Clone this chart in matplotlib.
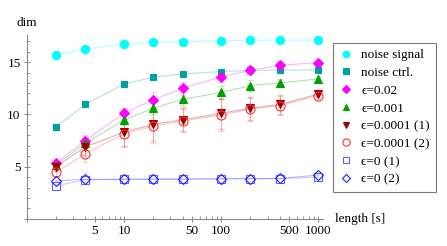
import numpy as np
import matplotlib
matplotlib.use('Agg')
import matplotlib.pyplot as plt
from matplotlib.ticker import FixedLocator, NullFormatter

#-----------------------------------------------------------------------------

length = [2, 4, 10, 20, 40, 100, 200, 400, 1000]  # x values (s)

noise_signal = [15.7, 16.25, 16.7, 16.88, 16.97, 17.05, 17.08, 17.1, 17.1]
noise_ctrl = [8.8, 10.95, 12.9, 13.55, 13.87, 14.1, 14.2, 14.25, 14.25]
eps_002 = [5.35, 7.5, 10.12, 11.4, 12.5, 13.6, 14.2, 14.7, 14.95]
eps_0001 = [5.15, 7.25, 9.45, 10.6, 11.43, 12.1, 12.75, 13.0, 13.4]
eps_00001_a = [5.0, 6.9, 8.3, 9.05, 9.5, 10.1, 10.6, 10.95, 11.95]
eps_00001_b = [4.45, 6.25, 8.15, 8.88, 9.38, 9.95, 10.5, 10.85, 11.8]
eps_0_a = [3.15, 3.75, 3.78, 3.8, 3.8, 3.82, 3.85, 3.85, 4.0]
eps_0_b = [3.65, 3.78, 3.8, 3.82, 3.82, 3.85, 3.85, 3.87, 4.2]

err_002 = [0.3, 0.5, 0.5, 0.7, 0.6, 0.4, 0.4, 0.3, 0.2]
err_0001 = [0.3, 0.4, 0.5, 0.6, 0.6, 0.6, 0.5, 0.4, 0.3]
err_00001 = [0.4, 0.8, 1.3, 1.6, 1.1, 1.5, 1.1, 0.9, 0.3]

labels = ['noise signal', 'noise ctrl.', '\u03f5=0.02', '\u03f5=0.001',
          '\u03f5=0.0001 (1)', '\u03f5=0.0001 (2)', '\u03f5=0 (1)', '\u03f5=0 (2)']

#-----------------------------------------------------------------------------

plt.rcParams['font.family'] = ['Liberation Serif', 'DejaVu Serif']
fig = plt.figure(figsize=(4.47, 2.46), dpi=100)
ax = fig.add_axes([0.060, 0.110, 0.663, 0.748])

def series(y, color, marker, label, ms=5.5, mfc=None, err=None):
    ax.plot(length, y, '-', color=color, alpha=0.3, lw=0.8, zorder=2)
    if err is not None:
        ax.errorbar(length, y, yerr=err, fmt='none', ecolor=color, alpha=0.22,
                    elinewidth=0.8, capsize=2.5, zorder=2)
    face = color if mfc is None else mfc
    ax.plot(length, y, linestyle='none', marker=marker, ms=ms, color=color,
            mfc=face, mec=color, mew=0.8, label=label, zorder=3)

series(noise_signal, '#00ffff', 'o', labels[0], ms=6)
series(noise_ctrl, '#00a0a0', 's', labels[1], ms=5)
series(eps_002, '#ff00ff', 'D', labels[2], ms=5, err=err_002)
series(eps_0001, '#00a000', '^', labels[3], ms=5.5, err=err_0001)
series(eps_00001_a, '#a00000', 'v', labels[4], ms=6, err=err_00001)
series(eps_00001_b, '#ff3030', 'o', labels[5], ms=6.5, mfc='none', err=err_00001)
series(eps_0_a, '#6060ff', 's', labels[6], ms=6, mfc='none')
series(eps_0_b, '#2020ff', 'D', labels[7], ms=5, mfc='none')

ax.set_xscale('log')
ax.set_xlim(1, 1120)
ax.set_ylim(0, 17.6)

ax.xaxis.set_major_locator(FixedLocator([1, 5, 10, 50, 100, 500, 1000]))
ax.set_xticklabels(['', '5', '10', '50', '100', '500', '1000'])
minors = [m * 10 ** k for k in range(0, 4) for m in range(2, 10)
          if m != 5 and m * 10 ** k < 1120]
ax.xaxis.set_minor_locator(FixedLocator(minors))
ax.xaxis.set_minor_formatter(NullFormatter())

ax.yaxis.set_major_locator(FixedLocator([0, 5, 10, 15]))
ax.set_yticklabels(['', '5', '10', '15'])
ax.yaxis.set_minor_locator(FixedLocator([v for v in range(1, 18) if v % 5]))

for s in ['top', 'right']:
    ax.spines[s].set_visible(False)
for s in ['left', 'bottom']:
    ax.spines[s].set_color('#888888')
    ax.spines[s].set_linewidth(0.8)
ax.tick_params(which='major', direction='inout', length=5, width=0.7,
               color='#888888', labelsize=9.5, pad=2)
ax.tick_params(which='minor', direction='in', length=2.5, width=0.6,
               color='#888888')

fig.text(0.036, 0.905, 'dim', fontsize=9.5, ha='left', va='center')
fig.text(0.750, 0.108, 'length [s]', fontsize=9.5, ha='left', va='center')

leg = fig.legend(loc='upper left', bbox_to_anchor=(0.745, 0.825), fontsize=9.5,
                 frameon=True, fancybox=False, edgecolor='#555555',
                 handlelength=1.0, handletextpad=0.7, borderpad=0.45,
                 labelspacing=0.42, markerscale=0.8, borderaxespad=0)
leg.get_frame().set_linewidth(0.8)

fig.savefig('out.png', dpi=100)
